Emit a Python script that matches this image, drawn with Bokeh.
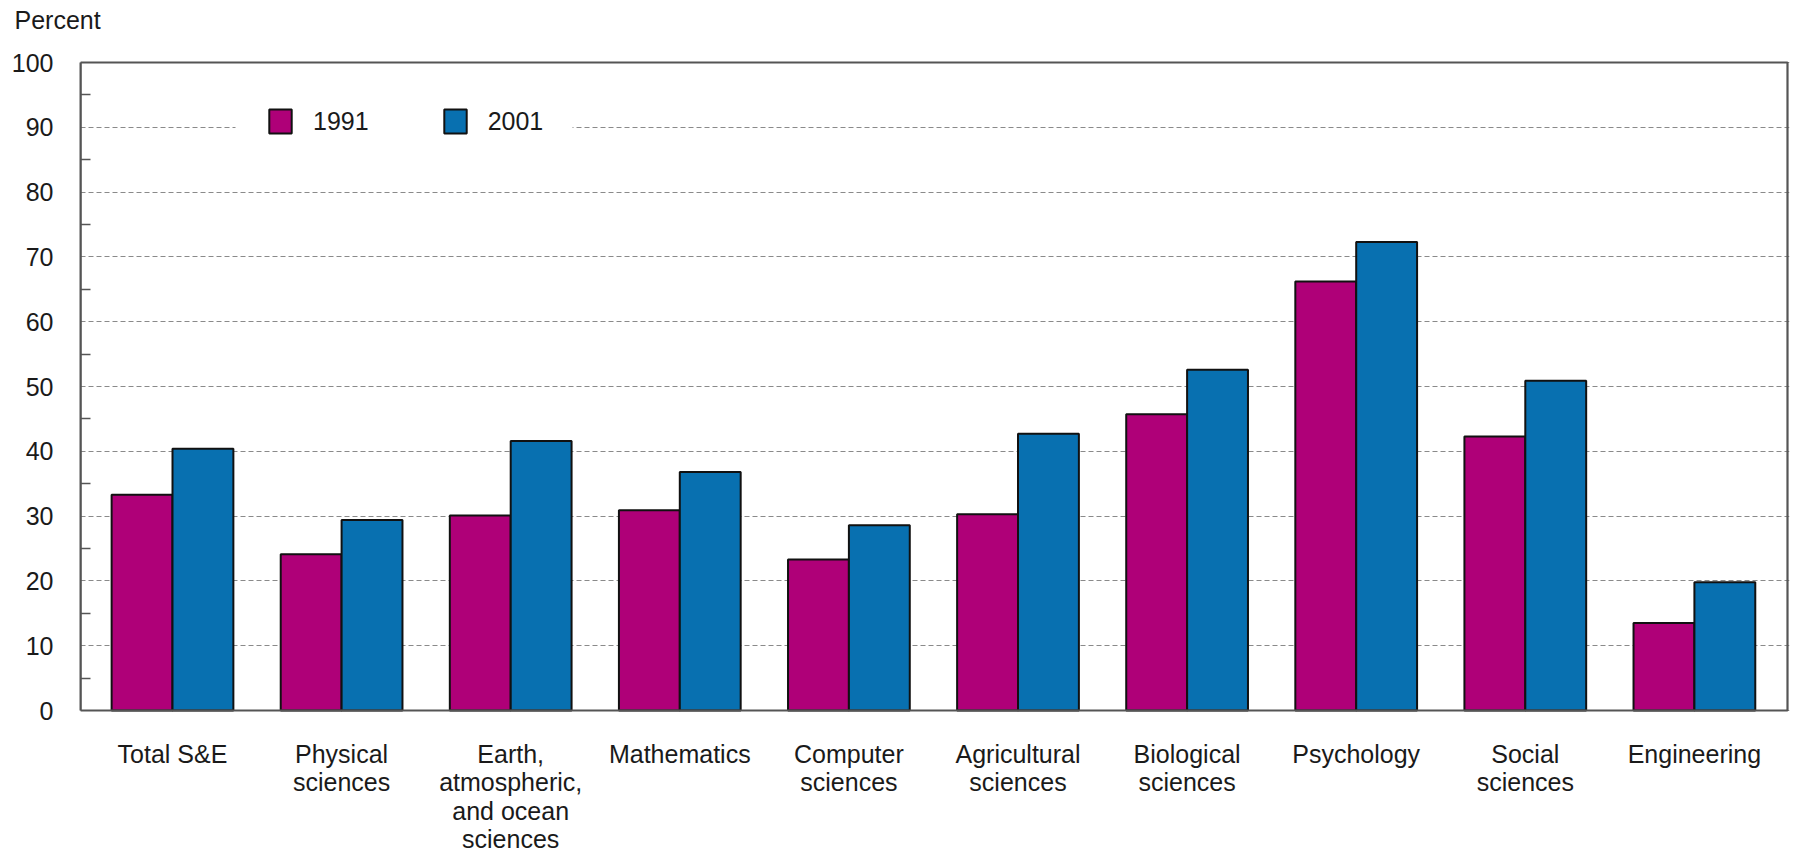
from bokeh.plotting import figure
from bokeh.models import (Range1d, FixedTicker, Legend, LegendItem,
                          ColumnDataSource, BoxAnnotation)
from bokeh.core.properties import value
from bokeh.embed import file_html
from bokeh.resources import INLINE

# ---- data ----
categories = ["Total S&E", "Physical\nsciences",
              "Earth,\natmospheric,\nand ocean\nsciences", "Mathematics",
              "Computer\nsciences", "Agricultural\nsciences",
              "Biological\nsciences", "Psychology", "Social\nsciences",
              "Engineering"]
values_1991 = [33.3, 24.1, 30.1, 30.9, 23.3, 30.3, 45.7, 66.2, 42.3, 13.5]
values_2001 = [40.4, 29.4, 41.6, 36.8, 28.6, 42.7, 52.6, 72.3, 50.9, 19.8]
series_names = ["1991", "2001"]
y_ticks = list(range(0, 101, 10))
y_minor = list(range(5, 100, 10))
y_max = 100
unit_label = "Percent"

FONT = "Liberation Sans"
FS = "25px"
TXT = "#1a1a1a"
C1991 = "#AF0078"
C2001 = "#0870B0"
FRAME_C = "#555555"

idx = list(range(len(categories)))
bw = 0.36
src = ColumnDataSource(dict(
    x1=[i - bw / 2 for i in idx], x2=[i + bw / 2 for i in idx],
    xc=idx, v1=values_1991, v2=values_2001, lab=categories))

W, H = 1792, 855
LEFT, TOP, RIGHT = 80, 60, 3
PX_PER_CAT = 169.1
PX_PER_UNIT = 6.48
ZERO_Y = 710
x_start = -92 / PX_PER_CAT
x_end = x_start + (W - LEFT - RIGHT) / PX_PER_CAT
y_min = -(H - ZERO_Y) / PX_PER_UNIT
y_end = y_max + 2 / PX_PER_UNIT

# frame runs to the bottom of the canvas, room for category labels below 0
p = figure(width=W, height=H, output_backend="svg", toolbar_location=None,
           x_range=Range1d(x_start, x_end), y_range=Range1d(y_min, y_end),
           min_border_left=LEFT, min_border_right=RIGHT, min_border_top=TOP,
           min_border_bottom=0, x_axis_location=None)
p.background_fill_color = "white"
p.border_fill_color = "white"
p.outline_line_color = None

# title used as the unit label (empty second line lifts it to the top)
p.title.text = unit_label + "\n"
p.title.align = "left"
p.title.vertical_align = "top"
p.title.offset = -66
p.title.standoff = 0
p.title.text_font = FONT
p.title.text_font_size = FS
p.title.text_font_style = "normal"
p.title.text_color = TXT
p.title.text_line_height = 0.9

r1 = p.vbar(x="x1", top="v1", width=bw, source=src, fill_color=C1991,
            line_color="#111111", line_width=2)
r2 = p.vbar(x="x2", top="v2", width=bw, source=src, fill_color=C2001,
            line_color="#111111", line_width=2)

# plot box (top / right / bottom border)
p.add_layout(BoxAnnotation(left=x_start, right=x_end - 2 / PX_PER_CAT,
                           bottom=0, top=y_max,
                           fill_color=None, fill_alpha=0,
                           line_color=FRAME_C, line_alpha=1.0, line_width=2.2,
                           level="overlay"))

# y axis
p.yaxis.bounds = (0, y_max)
p.yaxis.ticker = FixedTicker(ticks=y_ticks, minor_ticks=y_minor)
p.yaxis.axis_line_color = FRAME_C
p.yaxis.axis_line_width = 2
p.yaxis.major_tick_line_color = None
p.yaxis.major_tick_in = 0
p.yaxis.major_tick_out = 0
p.yaxis.minor_tick_line_color = FRAME_C
p.yaxis.minor_tick_line_width = 1.5
p.yaxis.minor_tick_in = 10
p.yaxis.minor_tick_out = 0
p.yaxis.major_label_standoff = 27
p.yaxis.major_label_text_font = FONT
p.yaxis.major_label_text_font_size = FS
p.yaxis.major_label_text_color = TXT

p.xgrid.grid_line_color = None
p.ygrid.bounds = (0, y_max)
p.ygrid.grid_line_color = "#8a8a8a"
p.ygrid.grid_line_width = 1.2
p.ygrid.grid_line_dash = "5 3"

# category labels below the baseline
p.text(x="xc", y=0, text="lab", source=src, y_offset=29,
       text_align="center", text_baseline="top",
       text_font=value(FONT), text_font_size=FS, text_color=TXT,
       text_line_height=1.02)

# white band behind the legend (interrupts the 90 % gridline as in the original)
legend_band_x = (63 / PX_PER_CAT, 400 / PX_PER_CAT)
p.add_layout(BoxAnnotation(left=legend_band_x[0], right=legend_band_x[1],
                           bottom=y_max - 13, top=y_max - 7,
                           fill_color="white", fill_alpha=1.0,
                           line_color=None, level="underlay"))

legend = Legend(items=[LegendItem(label=series_names[0], renderers=[r1]),
                       LegendItem(label=series_names[1], renderers=[r2])],
                orientation="horizontal", location=(186, 719),
                padding=32, margin=0, spacing=72, label_standoff=19,
                glyph_width=28, glyph_height=30,
                label_text_font=FONT, label_text_font_size=FS,
                label_text_color=TXT,
                border_line_color=None, background_fill_color="white",
                background_fill_alpha=1.0)
p.add_layout(legend)

open("out.html", "w").write(file_html(p, INLINE))
